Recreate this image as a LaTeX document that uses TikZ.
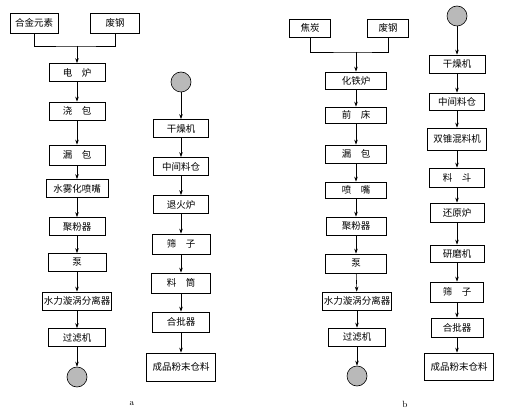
\documentclass[tikz,border=0pt]{standalone}
\usepackage{fontspec}
\newfontfamily\cjk{Noto Sans CJK SC}
\usetikzlibrary{arrows.meta}
\tikzset{
  proc box/.style={draw,line width=0.7pt,inner sep=1pt,minimum height=18pt,minimum width=56pt,font=\cjk\fontsize{9.5}{10}\selectfont},
  wide box/.style={proc box,minimum width=69pt},
  feed circle/.style={circle,draw,line width=0.6pt,fill=gray!55,minimum size=20pt,inner sep=0pt},
  flow line/.style={line width=0.6pt,->},
  feed line/.style={line width=0.6pt},
  panel label/.style={font=\small},
  >={Stealth[length=5pt,width=3.5pt]},
}
\newcommand{\gap}{\hspace{1em}}

\begin{document}
\begin{tikzpicture}[x=1pt,y=-1pt]
\useasboundingbox (0,0) rectangle (510,419);
% panel a, melting and atomizing
\node[proc box,minimum width=48pt,minimum height=20pt] (alloyA) at (34,23) {合金元素};
\node[proc box,minimum width=49pt,minimum height=20pt] (scrapA) at (115,23) {废钢};
\coordinate (joinA) at (77,46);
\node[proc box] (furnaceA) at (77,72.5) {电\gap 炉};
\node[proc box] (ladleA) at (77,111) {浇\gap 包};
\node[proc box,minimum height=20pt] (tundishA) at (77,155) {漏\gap 包};
\node[proc box,minimum width=62pt] (nozzleA) at (77,188.5) {水雾化喷嘴};
\node[proc box] (collectorA) at (77,226.5) {聚粉器};
\node[proc box,minimum width=58pt] (pumpA) at (77,262.5) {泵};
\node[wide box] (cycloneA) at (77,301) {水力漩涡分离器};
\node[proc box,minimum width=57pt] (filterA) at (77,337.5) {过滤机};
\node[feed circle] (endA) at (77,377) {};
% panel a, powder treatment
\node[feed circle] (startA) at (181,82) {};
\node[proc box,minimum width=55pt] (dryerA) at (181,128.5) {干燥机};
\node[proc box,minimum width=55pt] (binA) at (181,166.5) {中间料仓};
\node[proc box,minimum width=55pt] (annealA) at (181,204.5) {退火炉};
\node[proc box,minimum width=58pt,minimum height=20pt] (sieveA) at (181,244) {筛\gap 子};
\node[proc box,minimum width=59pt,minimum height=20pt] (drumA) at (181,283) {料\gap 筒};
\node[proc box,minimum width=57pt,minimum height=20pt] (blenderA) at (181,322) {合批器};
\node[wide box,minimum height=28pt] (productA) at (181,367) {成品粉末仓料};
\node[panel label] (labelA) at (132,404) {a};

\draw[feed line] (alloyA.south) |- (joinA) -| (scrapA.south);
\draw[flow line] (joinA) -- (furnaceA);
\foreach \u/\v in {furnaceA/ladleA,ladleA/tundishA,tundishA/nozzleA,nozzleA/collectorA,
  collectorA/pumpA,pumpA/cycloneA,cycloneA/filterA,filterA/endA,
  startA/dryerA,dryerA/binA,binA/annealA,annealA/sieveA,sieveA/drumA,drumA/blenderA,blenderA/productA}
  \draw[flow line] (\u) -- (\v);

% panel b, melting and atomizing
\node[proc box,minimum width=41pt] (cokeB) at (310,28) {焦炭};
\node[proc box,minimum width=41pt] (scrapB) at (388,28) {废钢};
\coordinate (joinB) at (356,52);
\node[proc box,minimum width=61pt,minimum height=17pt] (cupolaB) at (356,80.5) {化铁炉};
\node[proc box,minimum width=61pt,minimum height=16pt] (foreB) at (356,115) {前\gap 床};
\node[proc box,minimum width=61pt] (tundishB) at (356,154) {漏\gap 包};
\node[proc box,minimum width=61pt,minimum height=16pt] (nozzleB) at (356,190) {喷\gap 嘴};
\node[proc box,minimum width=60pt] (collectorB) at (356,226) {聚粉器};
\node[proc box,minimum width=61pt,minimum height=19pt] (pumpB) at (356,263.5) {泵};
\node[wide box] (cycloneB) at (357,301) {水力漩涡分离器};
\node[proc box,minimum width=57pt] (filterB) at (357,337) {过滤机};
\node[feed circle] (endB) at (357,376) {};
% panel b, powder treatment
\node[feed circle] (startB) at (457,16) {};
\node[proc box] (dryerB) at (457,64) {干燥机};
\node[proc box,minimum width=55pt,minimum height=17pt] (binB) at (457,101.5) {中间料仓};
\node[proc box,minimum width=59pt,minimum height=22pt] (mixerB) at (457,139) {双锥混料机};
\node[proc box,minimum width=55pt,minimum height=19pt] (hopperB) at (457,177.5) {料\gap 斗};
\node[proc box,minimum width=54pt,minimum height=19pt] (reduceB) at (457,212.5) {还原炉};
\node[proc box,minimum width=54pt,minimum height=17pt] (millB) at (457,253.5) {研磨机};
\node[proc box,minimum width=53pt,minimum height=20pt] (sieveB) at (457,292) {筛\gap 子};
\node[proc box,minimum width=52pt,minimum height=19pt] (blenderB) at (457,327.5) {合批器};
\node[wide box,minimum height=27pt] (productB) at (459,366.5) {成品粉末仓料};
\node[panel label] (labelB) at (405,404) {b};

\draw[feed line] (cokeB.south) |- (joinB) -| (scrapB.south);
\draw[flow line] (joinB) -- (cupolaB);
\foreach \u/\v in {cupolaB/foreB,foreB/tundishB,tundishB/nozzleB,nozzleB/collectorB,
  collectorB/pumpB,pumpB/cycloneB,cycloneB/filterB,filterB/endB,
  startB/dryerB,dryerB/binB,binB/mixerB,mixerB/hopperB,hopperB/reduceB,reduceB/millB,
  millB/sieveB,sieveB/blenderB}
  \draw[flow line] (\u) -- (\v);
\draw[flow line] (blenderB.south) -- (blenderB.south |- productB.north);
\end{tikzpicture}
\end{document}
